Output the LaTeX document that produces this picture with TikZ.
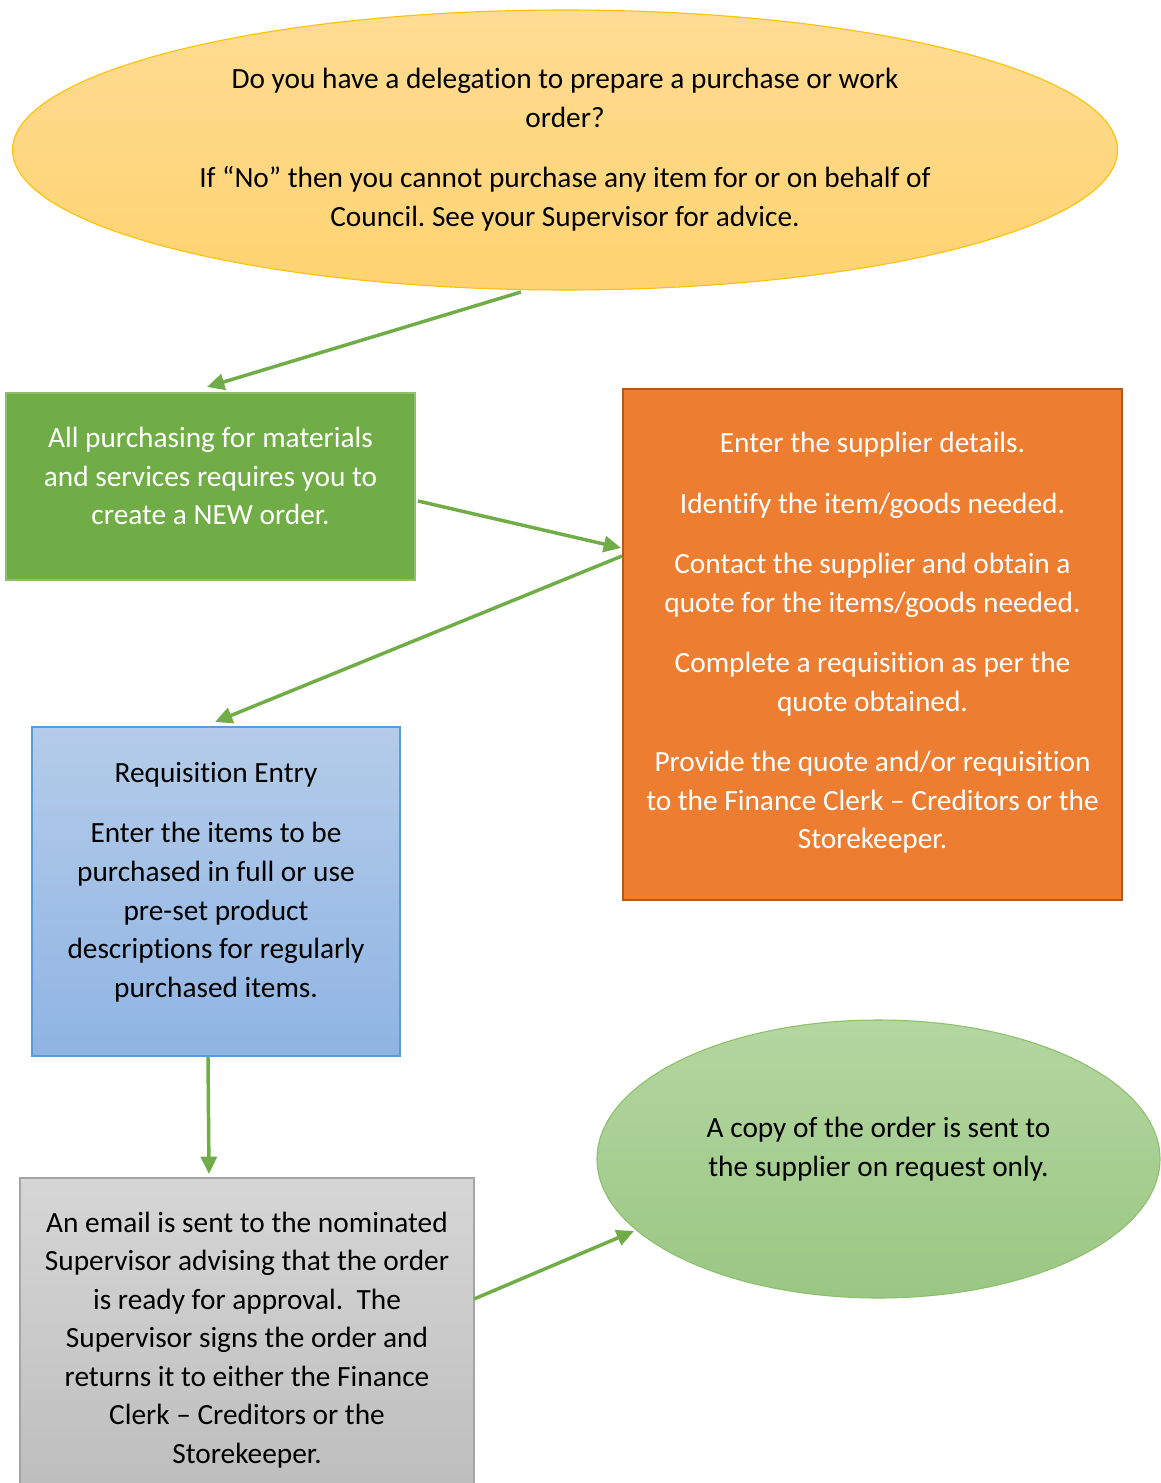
\documentclass[tikz,border=0pt]{standalone}
\usepackage{fontspec}
\setmainfont{Carlito}[Ligatures={NoCommon}]
\usetikzlibrary{arrows.meta,shapes.geometric,calc}
\definecolor{ygold}{HTML}{FFC000}
\definecolor{ytop}{HTML}{FFDC94}
\definecolor{ybot}{HTML}{FFD370}
\definecolor{grn}{HTML}{70AD47}
\definecolor{grnbd}{HTML}{8CC06A}
\definecolor{org}{HTML}{ED7D31}
\definecolor{orgbd}{HTML}{AE5A21}
\definecolor{btop}{HTML}{B4CCE9}
\definecolor{bbot}{HTML}{8FB4E3}
\definecolor{bbd}{HTML}{5B9BD5}
\definecolor{gtop}{HTML}{D6D6D6}
\definecolor{gbot}{HTML}{BDBDBD}
\definecolor{gbd}{HTML}{A5A5A5}
\definecolor{etop}{HTML}{B4D6A1}
\definecolor{ebot}{HTML}{9AC783}
\frenchspacing
\begin{document}
\begin{tikzpicture}[x=0.75pt,y=-0.75pt,
  shp/.style={inner sep=0pt,outer sep=0pt},
  txt/.style={align=center,font=\fontsize{22}{28.9}\selectfont,inner sep=0pt},
  conn/.style={draw=grn,line width=2.6pt,-{Triangle[length=13pt,width=12pt]}}]
\useasboundingbox (0,0) rectangle (1160,1483);
\fill[white] (0,0) rectangle (1160,1483);
% shapes
\node[shp,ellipse,draw=ygold,line width=0.8pt,top color=ytop,bottom color=ybot,
  minimum width=828.75pt,minimum height=210pt] (yel) at (565,150) {};
\node[shp,rectangle,draw=grnbd,line width=0.8pt,fill=grn,
  minimum width=306.75pt,minimum height=140.25pt] (gbox) at (210.5,486.5) {};
\node[shp,rectangle,draw=orgbd,line width=1.5pt,fill=org,
  minimum width=374.25pt,minimum height=383.25pt] (obox) at (872.5,644.5) {};
\node[shp,rectangle,draw=bbd,line width=0.8pt,top color=btop,bottom color=bbot,
  minimum width=276pt,minimum height=246.75pt] (bbox) at (216,891.5) {};
\node[shp,rectangle,draw=gbd,line width=0.8pt,top color=gtop,bottom color=gbot,
  minimum width=340.5pt,minimum height=237.75pt] (gray) at (247,1336.5) {};
\node[shp,ellipse,draw=grnbd,line width=0.8pt,top color=etop,bottom color=ebot,
  minimum width=422.25pt,minimum height=208.5pt] (gell) at (878.5,1159) {};
% texts
\node[txt] (ytxt) at (565,149.5) {Do you have a delegation to prepare a purchase or work\\ order?\\[16.5pt]
If “No” then you cannot purchase any item for or on behalf of\\ Council. See your Supervisor for advice.};
\node[txt,text=white] (gtxt) at (210.5,476) {All purchasing for materials\\ and services requires you to\\ create a NEW order.};
\node[txt,text=white] (otxt) at (872.5,643) {Enter the supplier details.\\[16.5pt]
Identify the item/goods needed.\\[16.5pt]
Contact the supplier and obtain a\\ quote for the items/goods needed.\\[16.5pt]
Complete a requisition as per the\\ quote obtained.\\[16.5pt]
Provide the quote and/or requisition\\ to the Finance Clerk – Creditors or the\\ Storekeeper.};
\node[txt] (btxt) at (216,882) {Requisition Entry\\[16.5pt]
Enter the items to be\\ purchased in full or use\\ pre-set product\\ descriptions for regularly\\ purchased items.};
\node[txt] (graytxt) at (247,1340) {An email is sent to the nominated\\ Supervisor advising that the order\\ is ready for approval.\ \ The\\ Supervisor signs the order and\\ returns it to either the Finance\\ Clerk – Creditors or the\\ Storekeeper.};
\node[txt] (etxt) at (878.5,1149) {A copy of the order is sent to\\ the supplier on request only.};
% connectors
\draw[conn] ($(yel.south)+(-44,2)$) -- ($(gbox.north)+(-3.5,-6)$);
\draw[conn] ($(gbox.east)+(3,14.5)$) -- ($(obox.west)+(-2,-96.5)$);
\draw[conn] ($(obox.west)+(-1,-88.5)$) -- ($(bbox.north)+(-1,-5)$);
\draw[conn] ($(bbox.south)+(-8,1)$) -- ($(gray.north)+(-38,-4)$);
\draw[conn] ($(gray.east)+(0,-37.5)$) -- ($(gell.west)+(37,72)$);
\end{tikzpicture}
\end{document}
